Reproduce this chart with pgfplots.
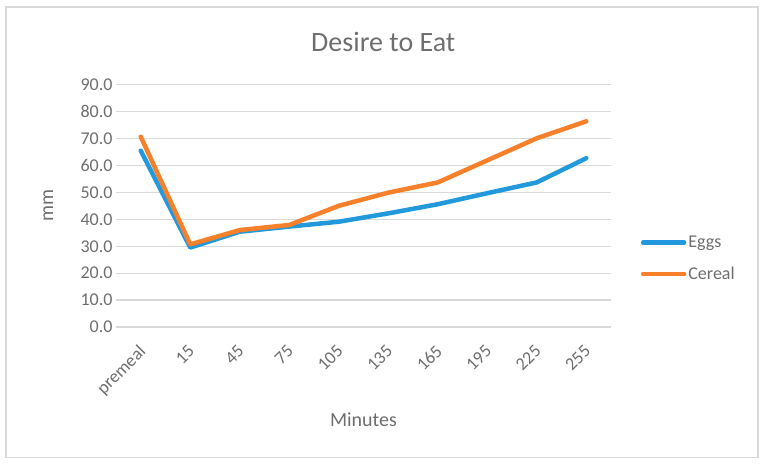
\documentclass[border=0pt]{standalone}
\usepackage{pgfplots}
\pgfplotsset{compat=1.18}
\usepackage{fontspec}
\setmainfont{Carlito}
\definecolor{eggblue}{HTML}{2199DC}
\definecolor{cerealorange}{HTML}{F7802A}
\definecolor{txtgray}{HTML}{6E6E6E}
\definecolor{gridgray}{HTML}{D9D9D9}

\pgfplotstableread{
x  eggs  cereal
0  65.5  70.7
1  29.5  30.7
2  35.4  36.0
3  37.3  37.9
4  39.1  45.0
5  42.2  49.9
6  45.6  53.7
7  49.7  61.9
8  53.7  70.1
9  62.7  76.4
}\desiretable

\begin{document}
\begin{tikzpicture}
\path (0pt,0pt) rectangle (766pt,465pt);
\draw[gridgray, line width=1.3pt] (6pt,7.5pt) rectangle (758pt,458pt);
\begin{axis}[
    at={(116pt,138pt)}, anchor=south west,
    scale only axis,
    width=495pt, height=242.3pt,
    xmin=-0.5, xmax=9.5,
    ymin=0, ymax=90,
    xtick=data,
    xticklabels={premeal,15,45,75,105,135,165,195,225,255},
    ytick={0,10,...,90},
    ymajorgrids,
    grid style={gridgray, line width=1.3pt},
    axis line style={draw=none},
    major tick length=0pt,
    tick style={draw=none},
    font=\fontsize{18}{20}\selectfont,
    ticklabel style={txtgray},
    yticklabel style={/pgf/number format/.cd, fixed, fixed zerofill, precision=1, assume math mode=true},
    xticklabel style={xshift=-3pt, yshift=-12pt, rotate=45, anchor=north east},
    title={Desire to Eat},
    title style={font=\fontsize{28}{30}\selectfont, txtgray, at={(axis description cs:0.540,1.15)}, anchor=center},
    xlabel={Minutes},
    xlabel style={font=\fontsize{20}{22}\selectfont, txtgray, at={(axis description cs:0.5,-0.384)}, anchor=center},
    ylabel={mm},
    ylabel style={font=\fontsize{20}{22}\selectfont, txtgray, at={(axis description cs:-0.137,0.5)}, anchor=center, rotate=0},
    legend style={at={(axis description cs:1.06,0.283)}, anchor=west, draw=none, fill=none,
        font=\fontsize{18}{20}\selectfont, text=txtgray, row sep=14pt,
        inner sep=0pt, cells={anchor=west}},
    legend image code/.code={\draw[#1] (0pt,0pt) -- (41pt,0pt);},
    every axis plot/.append style={line width=4.5pt, line join=round, line cap=round},
]
\addplot[eggblue] table[x=x, y=eggs] {\desiretable};
\addlegendentry{Eggs}
\addplot[cerealorange] table[x=x, y=cereal] {\desiretable};
\addlegendentry{Cereal}
\end{axis}
\end{tikzpicture}
\end{document}
